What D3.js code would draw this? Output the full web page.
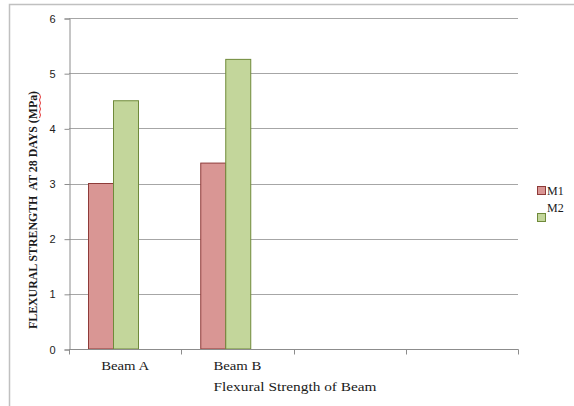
<!DOCTYPE html>
<html>
<head>
<meta charset="utf-8">
<script src="https://cdn.jsdelivr.net/npm/d3@7"></script>
<style>
  html, body { margin: 0; padding: 0; background: #fff; }
  svg { display: block; }
</style>
</head>
<body>
<svg id="chart" width="574" height="406"></svg>
<script>
// Flexural strength at 28 days by beam and mix
const categories = ["Beam A", "Beam B", "", " "];
const seriesNames = ["M1", "M2"];
const m1Values = [3.0, 3.37, null, null];
const m2Values = [4.5, 5.25, null, null];
const yTicks = [0, 1, 2, 3, 4, 5, 6];

const fills = { M1: "#d99694", M2: "#c3d69b" };
const strokes = { M1: "#8e3b39", M2: "#6f8a3a" };
const SERIF = "'Liberation Serif', 'DejaVu Serif', serif";
const SANS = "'Liberation Sans', Arial, sans-serif";

const svg = d3.select("#chart");
const W = 574, H = 406;
const plot = { left: 69, right: 518, top: 18, bottom: 349 };

// outer frame
svg.append("path")
  .attr("d", `M9.5,${H} V4.5 H${W}`)
  .attr("fill", "none").attr("stroke", "#c0c0c0").attr("stroke-width", 1.5);

const x = d3.scaleBand().domain(categories).range([plot.left, plot.right]);
const y = d3.scaleLinear().domain([0, 6]).range([plot.bottom, plot.top]);

// horizontal gridlines
svg.append("g").selectAll("line").data(yTicks.filter(d => d > 0)).join("line")
  .attr("x1", plot.left).attr("x2", plot.right)
  .attr("y1", d => Math.round(y(d)) + 0.5).attr("y2", d => Math.round(y(d)) + 0.5)
  .attr("stroke", "#a6a6a6").attr("stroke-width", 1);

// y axis
const yAxis = svg.append("g")
  .attr("transform", `translate(${plot.left + 0.5},0.5)`)
  .call(d3.axisLeft(y).tickValues(yTicks).tickSize(5).tickPadding(9).tickFormat(d3.format("d")));
yAxis.attr("font-family", SANS);
yAxis.select(".domain").attr("stroke", "#8c8c8c");
yAxis.selectAll(".tick line").attr("stroke", "#8c8c8c");
yAxis.selectAll(".tick text").attr("font-size", 11).attr("fill", "#222");

// bars
const inner = d3.scaleBand().domain(seriesNames).range([0, 50]);
const barOffset = 19;
const groups = svg.append("g").selectAll("g").data(categories.map((c, i) => ({
  cat: c, vals: [{ s: "M1", v: m1Values[i] }, { s: "M2", v: m2Values[i] }]
}))).join("g")
  .attr("transform", d => `translate(${x(d.cat) + barOffset},0)`);

groups.selectAll("rect").data(d => d.vals.filter(v => v.v != null)).join("rect")
  .attr("x", d => inner(d.s) + 0.5)
  .attr("width", inner.bandwidth())
  .attr("y", d => y(d.v))
  .attr("height", d => y(0) - y(d.v))
  .attr("fill", d => fills[d.s])
  .attr("stroke", d => strokes[d.s])
  .attr("stroke-width", 1);

// x axis
const xAxis = svg.append("g")
  .attr("transform", `translate(0,${plot.bottom + 0.5})`);
xAxis.append("line").attr("x1", plot.left).attr("x2", plot.right + 0.5)
  .attr("stroke", "#8c8c8c");
const xTickPos = categories.map(c => x(c)).concat([plot.right]);
xAxis.selectAll("line.tk").data(xTickPos).join("line").attr("class", "tk")
  .attr("x1", d => Math.round(d) + 0.5).attr("x2", d => Math.round(d) + 0.5)
  .attr("y1", 0).attr("y2", 5).attr("stroke", "#8c8c8c");
xAxis.selectAll("text").data(categories.filter(c => c.trim() !== "")).join("text")
  .attr("x", d => x(d) + x.bandwidth() / 2)
  .attr("y", 20.5)
  .attr("text-anchor", "middle")
  .attr("font-family", SERIF)
  .attr("font-size", 12)
  .attr("fill", "#1a1a1a")
  .attr("textLength", 48)
  .attr("lengthAdjust", "spacingAndGlyphs")
  .text(d => d);

// axis titles
svg.append("text")
  .attr("x", 295).attr("y", 391)
  .attr("text-anchor", "middle")
  .attr("font-family", SERIF)
  .attr("font-size", 12)
  .attr("fill", "#1a1a1a")
  .attr("textLength", 163)
  .attr("lengthAdjust", "spacingAndGlyphs")
  .text("Flexural Strength of Beam");

svg.append("text")
  .attr("transform", "translate(37,210) rotate(-90)")
  .attr("text-anchor", "middle")
  .attr("font-family", SERIF)
  .attr("font-size", 12)
  .attr("font-weight", "bold")
  .attr("fill", "#1a1a1a")
  .attr("textLength", 238)
  .attr("lengthAdjust", "spacingAndGlyphs")
  .style("white-space", "pre")
  .text("FLEXURAL STRENGTH  AT 28 DAYS (MPa)");

// spell-check squiggle under "MPa"
const squiggle = d3.range(0, 9).map(i => [39.5 + (i % 2 ? 1 : 0), 94 + i * 3]);
svg.append("path")
  .attr("d", d3.line()(squiggle))
  .attr("fill", "none").attr("stroke", "#e02020").attr("stroke-width", 0.9);

// legend
const legend = [
  { s: "M1", box: 186, txt: 195 },
  { s: "M2", box: 213, txt: 212 }
];
const lg = svg.append("g");
lg.selectAll("rect").data(legend).join("rect")
  .attr("x", 537.5).attr("y", d => d.box + 0.5).attr("width", 8).attr("height", 8)
  .attr("fill", d => fills[d.s]).attr("stroke", d => strokes[d.s]);
lg.selectAll("text").data(legend).join("text")
  .attr("x", 547).attr("y", d => d.txt)
  .attr("font-family", SERIF)
  .attr("font-size", 12)
  .attr("fill", "#1a1a1a")
  .text(d => d.s);
</script>
</body>
</html>
